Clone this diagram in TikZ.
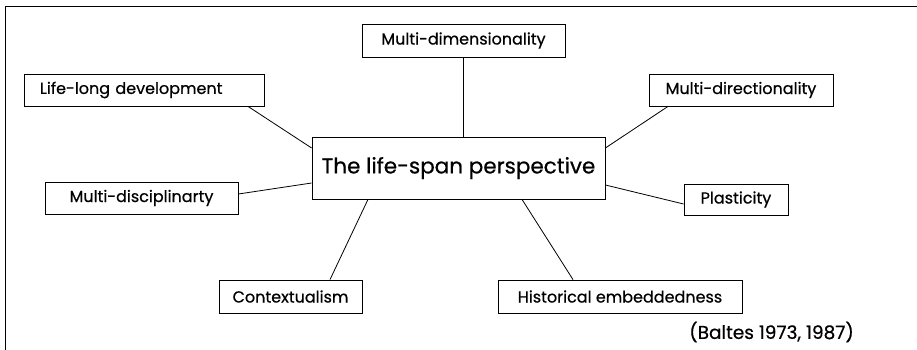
\documentclass[tikz,border=0pt]{standalone}
\usepackage{fontspec}
\setmainfont[FakeBold=0.6,AutoFakeBold=0.6]{Poppins}
\begin{document}
\begin{tikzpicture}[x=1pt,y=-1pt,
  item/.style={draw, line width=0.8pt, inner sep=0pt, font=\bfseries\fontsize{16}{18}\selectfont},
  core/.style={draw, line width=0.8pt, inner sep=0pt, font=\bfseries\fontsize{21.5}{25}\selectfont},
  link/.style={line width=0.8pt}]
\useasboundingbox (0,0) rectangle (917,350);
% frame edges
\draw[line width=1pt] (5.5,350) coordinate (fb) -- (5.5,6.5) coordinate (fc) -- (917,6.5) coordinate (fr);
% central concept
\node[core, minimum width=293pt, minimum height=62pt] (cp) at (458.5,168) {The life-span perspective};
% surrounding aspects
\node[item, minimum width=203pt, minimum height=33pt] (md) at (463.5,40.5) {Multi-dimensionality};
\node[item, minimum width=240pt, minimum height=32pt, text width=208pt, align=left] (ld) at (144,90) {Life-long development};
\node[item, minimum width=184pt, minimum height=32pt] (mdir) at (741,90) {Multi-directionality};
\node[item, minimum width=193pt, minimum height=32pt] (mdis) at (141.5,198) {Multi-disciplinarty};
\node[item, minimum width=104pt, minimum height=31pt] (pl) at (736,199.5) {Plasticity};
\node[item, minimum width=143pt, minimum height=33pt] (ctx) at (290.5,296.5) {Contextualism};
\node[item, minimum width=244pt, minimum height=33pt] (he) at (620,296.5) {Historical embeddedness};
\node[font=\bfseries\fontsize{18.5}{20}\selectfont, anchor=east, inner sep=0pt] (src) at (854,332) {(Baltes 1973, 1987)};
% connectors
\draw[link] (md.south) -- (md.south |- cp.north);
\draw[link] ([xshift=104pt]ld.south) -- ([yshift=20pt]cp.west);
\draw[link] ([xshift=-73pt]mdir.south) -- ([yshift=20pt]cp.east);
\draw[link] ([yshift=4pt]mdis.east) -- ([yshift=-15pt]cp.west);
\draw[link] ([yshift=-4.5pt]pl.west) -- ([yshift=-17pt]cp.east);
\draw[link] ([xshift=39.5pt]ctx.north) -- ([xshift=-90.5pt]cp.south);
\draw[link] ([xshift=-47pt]he.north) -- ([xshift=63.5pt]cp.south);
\end{tikzpicture}
\end{document}
